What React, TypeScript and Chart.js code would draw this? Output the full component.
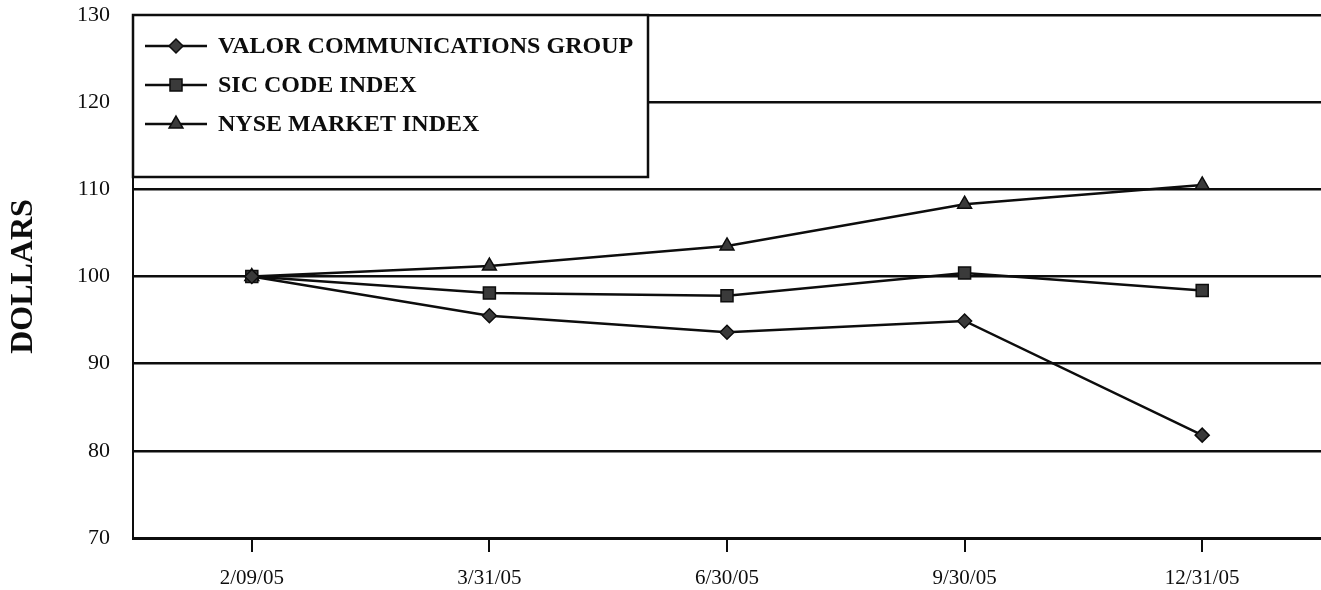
import { useEffect, useRef } from 'react';
import { Chart, registerables } from 'chart.js';
import { drawPoint } from 'chart.js/helpers';

Chart.register(...registerables);

const dates = ['2/09/05', '3/31/05', '6/30/05', '9/30/05', '12/31/05'];
const valor = [100, 95.5, 93.6, 94.9, 81.8];
const sicIndex = [100, 98.1, 97.8, 100.4, 98.4];
const nyseIndex = [100, 101.2, 103.5, 108.3, 110.5];
const seriesNames = ['VALOR COMMUNICATIONS GROUP', 'SIC CODE INDEX', 'NYSE MARKET INDEX'];
const yTicks = [70, 80, 90, 100, 110, 120, 130];

const SERIF = '"Liberation Serif", "Times New Roman", serif';
const INK = '#0d0d0d';

// legend box sitting in the top-left corner of the plot area
const boxLegend = {
  id: 'boxLegend',
  afterDraw(chart: Chart) {
    const { ctx, chartArea } = chart;
    const x = chartArea.left;
    const y = chartArea.top;
    const w = 515;
    const h = 162;
    ctx.save();
    ctx.fillStyle = '#fff';
    ctx.fillRect(x, y, w, h);
    ctx.strokeStyle = INK;
    ctx.lineWidth = 2.5;
    ctx.strokeRect(x, y, w, h);

    chart.data.datasets.forEach((ds: any, i: number) => {
      const cy = y + 31 + i * 39;
      ctx.strokeStyle = INK;
      ctx.lineWidth = 2.5;
      ctx.beginPath();
      ctx.moveTo(x + 12, cy);
      ctx.lineTo(x + 74, cy);
      ctx.stroke();
      ctx.fillStyle = ds.pointBackgroundColor;
      ctx.strokeStyle = INK;
      ctx.lineWidth = 1.5;
      drawPoint(ctx, { pointStyle: ds.pointStyle, radius: ds.pointRadius, borderWidth: 1.5, rotation: 0 }, x + 43, cy);
      ctx.fillStyle = INK;
      ctx.font = `bold 24px ${SERIF}`;
      ctx.textBaseline = 'middle';
      ctx.textAlign = 'left';
      ctx.fillText(ds.label, x + 85, cy + 1);
    });
    ctx.restore();
  },
};

const App = () => {
  const canvasRef = useRef<HTMLCanvasElement>(null);
  const chartRef = useRef<Chart | null>(null);

  useEffect(() => {
    const ctx = canvasRef.current?.getContext('2d');
    if (!ctx) return;

    if (chartRef.current) {
      chartRef.current.destroy();
    }

    const common = {
      borderColor: INK,
      borderWidth: 2.5,
      pointBackgroundColor: '#3a3a3a',
      pointBorderColor: INK,
      pointBorderWidth: 1.5,
      tension: 0,
      fill: false,
    };

    chartRef.current = new Chart(ctx, {
      type: 'line',
      data: {
        labels: dates,
        datasets: [
          { ...common, label: seriesNames[0], data: valor, pointStyle: 'rectRot', pointRadius: 7 },
          { ...common, label: seriesNames[1], data: sicIndex, pointStyle: 'rect', pointRadius: 8.5 },
          { ...common, label: seriesNames[2], data: nyseIndex, pointStyle: 'triangle', pointRadius: 8 },
        ],
      },
      options: {
        animation: false,
        responsive: false,
        layout: { autoPadding: false, padding: { top: 15, right: 0, left: 0, bottom: 0 } },
        plugins: {
          legend: { display: false },
          tooltip: { enabled: false },
        },
        scales: {
          x: {
            type: 'category',
            offset: true,
            grid: {
              drawOnChartArea: false,
              drawTicks: true,
              tickLength: 14,
              color: INK,
              lineWidth: 2,
            },
            border: { color: INK, width: 3 },
            ticks: {
              color: INK,
              padding: 14,
              maxRotation: 0,
              font: { family: SERIF, size: 21 },
            },
            afterFit: (scale: any) => {
              scale.height = 52;
              scale.paddingLeft = 0;
              scale.paddingRight = 0;
            },
          },
          y: {
            min: yTicks[0],
            max: yTicks[yTicks.length - 1],
            afterBuildTicks: (scale: any) => {
              scale.ticks = yTicks.map((v) => ({ value: v }));
            },
            grid: {
              drawTicks: false,
              color: INK,
              lineWidth: 2.5,
            },
            border: { color: INK, width: 2 },
            ticks: {
              color: INK,
              padding: 23,
              font: { family: SERIF, size: 22 },
            },
            title: {
              display: true,
              text: 'DOLLARS',
              color: INK,
              padding: { top: 5, bottom: 0 },
              font: { family: SERIF, size: 32, weight: 'bold' },
            },
            afterFit: (scale: any) => {
              scale.width = 133;
              scale.paddingTop = 0;
              scale.paddingBottom = 0;
            },
          },
        },
      },
      plugins: [boxLegend],
    });

    return () => {
      if (chartRef.current) {
        chartRef.current.destroy();
        chartRef.current = null;
      }
    };
  }, []);

  return (
    <div style={{ position: 'fixed', left: 0, top: 0, width: 1321, height: 590, background: '#fff' }}>
      <canvas ref={canvasRef} width={1321} height={590} />
    </div>
  );
};

export default App;
